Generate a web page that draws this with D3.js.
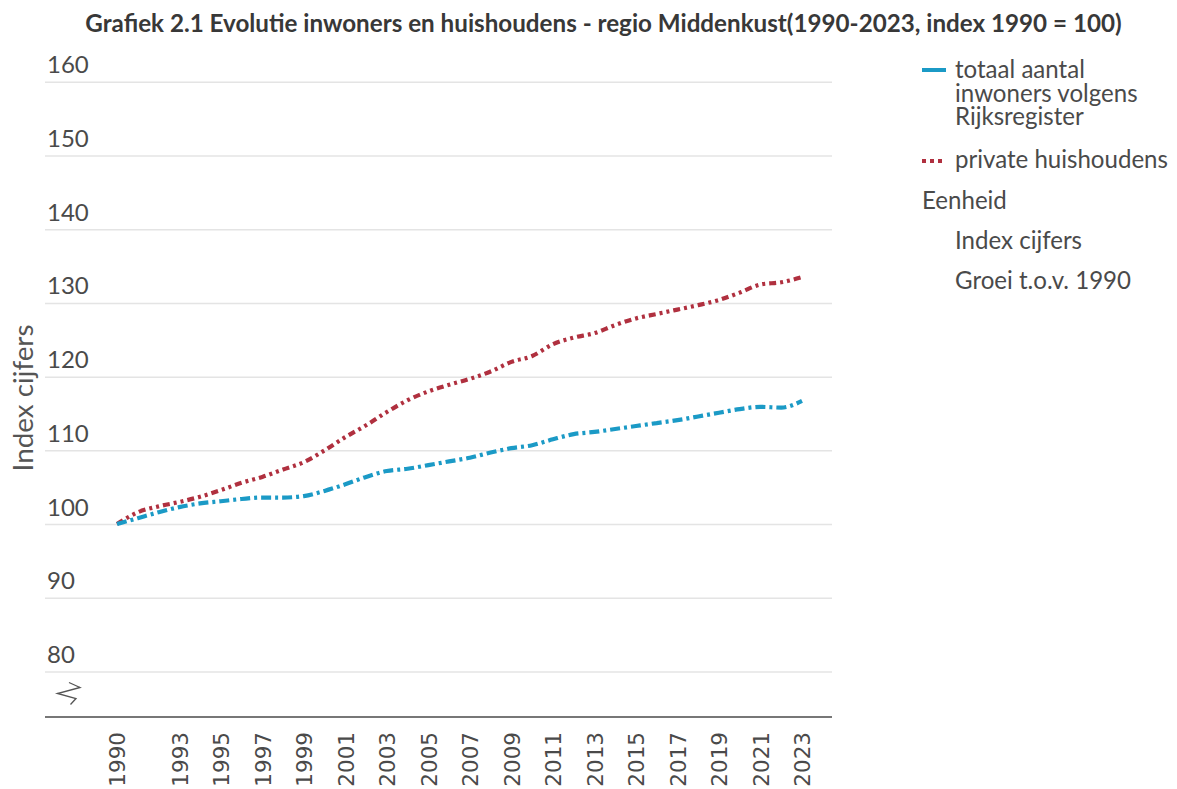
<!DOCTYPE html>
<html>
<head>
<meta charset="utf-8">
<script src="https://cdn.jsdelivr.net/npm/d3@7"></script>
<style>
  html, body { margin: 0; padding: 0; background: #fff; }
  svg { display: block; }
</style>
</head>
<body>
<svg id="chart" width="1177" height="789"></svg>
<script>
// ---------- data ----------
const years = [1990,1991,1992,1993,1994,1995,1996,1997,1998,1999,2000,2001,2002,2003,2004,2005,2006,2007,2008,2009,2010,2011,2012,2013,2014,2015,2016,2017,2018,2019,2020,2021,2022,2023];
const inwoners = [100.0,100.8,101.6,102.3,102.8,103.1,103.4,103.6,103.6,103.8,104.5,105.4,106.4,107.2,107.5,108.0,108.5,109.0,109.7,110.3,110.7,111.5,112.2,112.5,112.9,113.3,113.7,114.1,114.6,115.1,115.6,115.9,115.8,116.7];
const huishoudens = [100.0,101.6,102.4,103.0,103.7,104.6,105.6,106.4,107.4,108.4,110.0,111.8,113.4,115.2,116.8,118.0,118.9,119.7,120.7,122.0,122.8,124.4,125.3,125.9,127.0,127.9,128.5,129.1,129.7,130.4,131.4,132.5,132.8,133.5];
const xTickYears = [1990,1993,1995,1997,1999,2001,2003,2005,2007,2009,2011,2013,2015,2017,2019,2021,2023];
const yTicks = [80,90,100,110,120,130,140,150,160];
const seriesNames = ["totaal aantal inwoners volgens Rijksregister", "private huishoudens"];
const legendLines1 = ["totaal aantal", "inwoners volgens", "Rijksregister"];
const titleText = "Grafiek 2.1 Evolutie inwoners en huishoudens - regio Middenkust(1990-2023, index 1990 = 100)";
const yAxisTitle = "Index cijfers";
const unitHeader = "Eenheid";
const unitOptions = ["Index cijfers", "Groei t.o.v. 1990"];

// ---------- styles ----------
const BLUE = "#1b9ac6", RED = "#b0303f", TXT = "#4a4a4a";
const FONT = "Lato, 'Open Sans', sans-serif";

const svg = d3.select("#chart");

function fitText(sel, targetW) {
  const node = sel.node();
  const w = node.getComputedTextLength();
  const fs = parseFloat(sel.attr("font-size"));
  if (w > 0) sel.attr("font-size", (fs * targetW / w).toFixed(2));
}

// scales
const x = d3.scaleLinear().domain([1990, 2023]).range([117, 802]);
const y = d3.scaleLinear().domain([80, 160]).range([671.5, 81.8]);
const gridX0 = 45, gridX1 = 832, baseY = 717;

// title
const title = svg.append("text")
  .attr("x", 603.5).attr("y", 32)
  .attr("text-anchor", "middle")
  .attr("font-family", FONT).attr("font-weight", 700)
  .attr("font-size", 19).attr("fill", "#383838")
  .text(titleText);
fitText(title, 1037);

// gridlines + y labels
const yAxis = d3.axisLeft(y).tickValues(yTicks).tickSize(-(gridX1 - gridX0)).tickFormat(d3.format("d"));
const gY = svg.append("g").attr("transform", `translate(${gridX0},0)`).call(yAxis);
gY.select(".domain").remove();
gY.selectAll(".tick line").attr("stroke", "#e4e4e4").attr("stroke-width", 1.5);
gY.selectAll(".tick text")
  .attr("x", 2).attr("dy", -9)
  .attr("text-anchor", "start")
  .attr("font-family", FONT).attr("font-size", 24)
  .attr("fill", TXT);

// axis break symbol
svg.append("path")
  .attr("d", "M69,682.5 L80,687.5 L57.5,693.5 L76,698.5 L70.5,704.5")
  .attr("fill", "none").attr("stroke", "#555").attr("stroke-width", 1.3);

// x axis baseline
svg.append("line")
  .attr("x1", gridX0).attr("x2", gridX1).attr("y1", baseY).attr("y2", baseY)
  .attr("stroke", "#777").attr("stroke-width", 2.2);

// x labels
const xAxis = d3.axisBottom(x).tickValues(xTickYears).tickSize(0).tickFormat(d3.format("d"));
const gX = svg.append("g").attr("transform", `translate(0,${baseY})`).call(xAxis);
gX.select(".domain").remove();
gX.selectAll(".tick text")
  .attr("transform", "rotate(-90)")
  .attr("x", -15).attr("y", 0).attr("dy", "0.36em")
  .attr("text-anchor", "end")
  .attr("font-family", "'DejaVu Sans', sans-serif").attr("font-size", 21.5)
  .attr("fill", TXT);

// y axis title
const yt = svg.append("text")
  .attr("transform", "translate(33,398) rotate(-90)")
  .attr("text-anchor", "middle")
  .attr("font-family", FONT).attr("font-size", 25)
  .attr("fill", "#555")
  .text(yAxisTitle);
fitText(yt, 147);

// lines
const line = d3.line().x((d, i) => x(years[i])).y(d => y(d)).curve(d3.curveMonotoneX);
svg.append("path").datum(huishoudens)
  .attr("d", line).attr("fill", "none")
  .attr("stroke", RED).attr("stroke-width", 4.2)
  .attr("stroke-dasharray", "7,4,3,4,3,4");
svg.append("path").datum(inwoners)
  .attr("d", line).attr("fill", "none")
  .attr("stroke", BLUE).attr("stroke-width", 4.2)
  .attr("stroke-dasharray", "10,4,3,4");

// legend
const lg = svg.append("g").attr("font-family", FONT).attr("fill", TXT);
lg.append("line").attr("x1", 922).attr("x2", 946).attr("y1", 70).attr("y2", 70)
  .attr("stroke", BLUE).attr("stroke-width", 4);
lg.append("line").attr("x1", 922).attr("x2", 946).attr("y1", 161).attr("y2", 161)
  .attr("stroke", RED).attr("stroke-width", 4).attr("stroke-dasharray", "4,4");
const l2 = lg.append("text").attr("x", 955).attr("y", 168).attr("font-size", 21).text(seriesNames[1]);
fitText(l2, 213);
const fsL = l2.attr("font-size");
legendLines1.forEach((t, i) => {
  lg.append("text").attr("x", 955).attr("y", 78 + i * 23.7).attr("font-size", fsL).text(t);
});
lg.append("text").attr("x", 922).attr("y", 209).attr("font-size", fsL).text(unitHeader);
unitOptions.forEach((t, i) => {
  lg.append("text").attr("x", 955).attr("y", 249 + i * 40).attr("font-size", fsL).text(t);
});
</script>
</body>
</html>
